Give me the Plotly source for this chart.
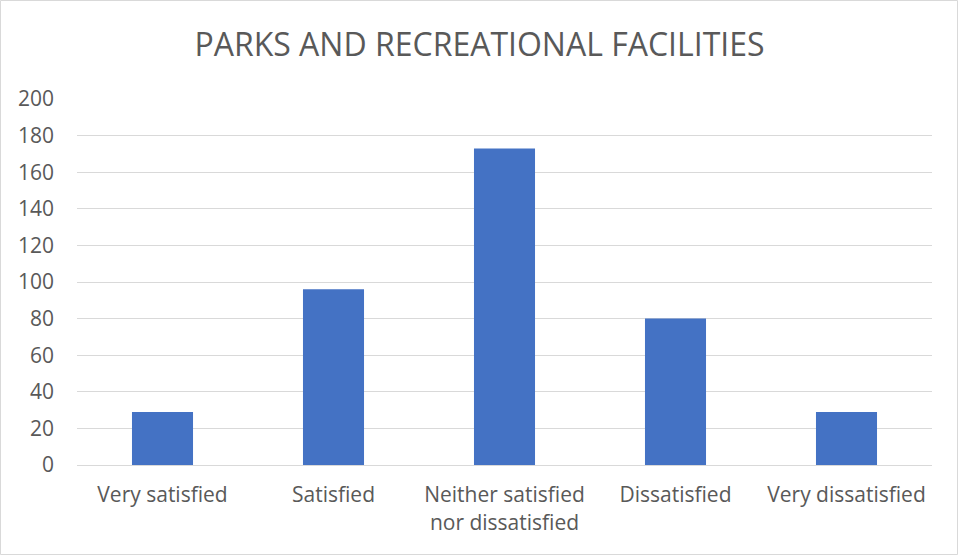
import plotly.graph_objects as go

categories = ["Very satisfied", "Satisfied", "Neither satisfied<br>nor dissatisfied", "Dissatisfied", "Very dissatisfied"]
values = [29, 96, 173, 80, 29]
y_ticks = [0, 20, 40, 60, 80, 100, 120, 140, 160, 180, 200]

W, H = 959, 556
ml, mr, mt, mb = 77, 27, 99, 91
pw, ph = W - ml - mr, H - mt - mb

fig = go.Figure(go.Bar(x=categories, y=values, marker=dict(color="#4472C4", line=dict(width=0))))

font = "Open Sans, Noto Sans, sans-serif"
fig.update_layout(
    width=W, height=H,
    margin=dict(l=ml, r=mr, t=mt, b=mb),
    paper_bgcolor="white", plot_bgcolor="white",
    bargap=0.643,
    showlegend=False,
    title=dict(text="PARKS AND RECREATIONAL FACILITIES", x=0.5, xanchor="center", y=1 - 45 / H, yanchor="middle",
               font=dict(family=font, size=32, color="#595959")),
    font=dict(family=font, size=21, color="#595959"),
    xaxis=dict(showgrid=False, showline=True, linecolor="#D9D9D9", linewidth=1, ticks="",
               ticklabelstandoff=11,
               tickfont=dict(size=21, color="#595959")),
    yaxis=dict(range=[0, 200], tickvals=y_ticks, showgrid=True, gridcolor="#D9D9D9", gridwidth=1,
               zeroline=False, showline=False, ticks="", ticklabelstandoff=22,
               tickfont=dict(size=21, color="#595959")),
    shapes=[dict(type="rect", xref="paper", yref="paper",
                 x0=-(ml - 0.5) / pw, x1=1 + (mr - 1.5) / pw,
                 y0=-(mb - 1.5) / ph, y1=1 + (mt - 0.5) / ph,
                 line=dict(color="#D9D9D9", width=1))],
)

fig.write_html("out.html", config={"displayModeBar": False},
               post_script="document.body.style.margin='0';document.body.style.overflow='hidden';")
